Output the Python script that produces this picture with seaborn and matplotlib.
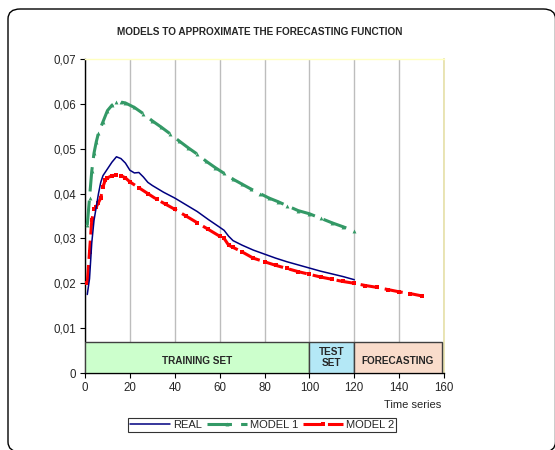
import numpy as np
import pandas as pd
import matplotlib
matplotlib.use("Agg")
import matplotlib.pyplot as plt
from matplotlib.patches import Rectangle, FancyBboxPatch
import seaborn as sns

# ---------------------------------------------------------------------------
# Data
# ---------------------------------------------------------------------------
real_x = [1, 2, 3, 4, 5, 6, 7, 8, 10, 12, 14, 16, 18, 20, 22, 24, 26, 28, 30,
          35, 40, 45, 50, 55, 60, 62, 64, 66, 70, 75, 80, 85, 90, 95, 100,
          105, 110, 115, 120]
real_y = [0.0175, 0.021, 0.029, 0.034, 0.037, 0.040, 0.0425, 0.044, 0.0455,
          0.047, 0.0482, 0.0478, 0.0468, 0.0452, 0.0446, 0.0447, 0.0437,
          0.0425, 0.0418, 0.0403, 0.0390, 0.0375, 0.0360, 0.0342, 0.0325,
          0.0318, 0.0305, 0.0295, 0.0285, 0.0274, 0.0265, 0.0256, 0.0248,
          0.0241, 0.0234, 0.0227, 0.0221, 0.0215, 0.0208]

model1_x = [1, 2, 3, 4, 5, 6, 8, 10, 12, 14, 16, 18, 22, 26, 30, 34, 38, 42,
            46, 50, 54, 58, 62, 66, 70, 74, 78, 82, 86, 90, 95, 100, 105,
            110, 115, 120]
model1_y = [0.0330, 0.0390, 0.0450, 0.0490, 0.0515, 0.0535, 0.0560, 0.0585,
            0.0597, 0.0604, 0.0604, 0.0602, 0.0592, 0.0578, 0.0562, 0.0548,
            0.0533, 0.0517, 0.0502, 0.0488, 0.0472, 0.0458, 0.0445, 0.0432,
            0.0421, 0.0410, 0.0400, 0.0390, 0.0382, 0.0373, 0.0362, 0.0355,
            0.0345, 0.0335, 0.0326, 0.0317]

model2_x = [1, 2, 3, 4, 5, 6, 7, 8, 9, 10, 12, 14, 16, 18, 20, 24, 28, 32, 36,
            40, 45, 50, 55, 60, 62, 64, 66, 70, 75, 80, 85, 90, 95, 100, 105,
            110, 115, 120, 125, 130, 135, 140, 145, 150]
model2_y = [0.0200, 0.0270, 0.0340, 0.0365, 0.0370, 0.0380, 0.0390, 0.0415,
            0.0430, 0.0435, 0.0440, 0.0442, 0.0440, 0.0435, 0.0426, 0.0413,
            0.0400, 0.0387, 0.0376, 0.0365, 0.0350, 0.0335, 0.0320, 0.0305,
            0.0300, 0.0285, 0.0280, 0.0270, 0.0256, 0.0248, 0.0240, 0.0233,
            0.0226, 0.0220, 0.0214, 0.0209, 0.0204, 0.0200, 0.0195, 0.0191,
            0.0186, 0.0181, 0.0177, 0.0172]

# Phase bands along the bottom of the chart
phase_labels = ["TRAINING SET", "TEST\nSET", "FORECASTING"]
phase_start = [0, 100, 120]
phase_end = [100, 120, 159]
phase_colors = ["#CCFFCC", "#B4E8F6", "#F9DCCB"]
band_top = 0.0069

x_ticks = [0, 20, 40, 60, 80, 100, 120, 140, 160]
y_ticks = [0, 0.01, 0.02, 0.03, 0.04, 0.05, 0.06, 0.07]
y_tick_labels = ["0", "0,01", "0,02", "0,03", "0,04", "0,05", "0,06", "0,07"]

# ---------------------------------------------------------------------------
# Style
# ---------------------------------------------------------------------------
sns.set_style("white")
plt.rcParams["font.family"] = ["Liberation Sans", "DejaVu Sans"]

fig = plt.figure(figsize=(5.55, 4.5), dpi=100)
ax = fig.add_axes([0.1532, 0.1711, 0.6468, 0.6978])

# outer rounded frame (right/bottom edges fall outside the image)
frame = FancyBboxPatch((8 / 555, -0.004), 547.5 / 555, 1 - 9 / 450 + 0.004,
                       boxstyle="round,pad=0,rounding_size=0.022",
                       transform=fig.transFigure, fill=False,
                       edgecolor="black", linewidth=1.0, clip_on=False)
fig.patches.append(frame)

real = pd.DataFrame({"x": real_x, "y": real_y})
model1 = pd.DataFrame({"x": model1_x, "y": model1_y})
model2 = pd.DataFrame({"x": model2_x, "y": model2_y})

sns.lineplot(data=real, x="x", y="y", ax=ax, color="#000080",
             linewidth=1.1, label="REAL", zorder=5)
sns.lineplot(data=model1, x="x", y="y", ax=ax, color="#339966",
             linewidth=2.2, linestyle=(0, (8, 3)), marker="^",
             markersize=2.8, markeredgewidth=0, label="MODEL 1", zorder=4)
sns.lineplot(data=model2, x="x", y="y", ax=ax, color="#FF0000",
             linewidth=2.2, linestyle=(0, (6, 2)), marker="s",
             markersize=2.6, markeredgewidth=0, label="MODEL 2", zorder=4)
if ax.get_legend() is not None:
    ax.get_legend().remove()

# phase bands
for lab, x0, x1, col in zip(phase_labels, phase_start, phase_end, phase_colors):
    ax.add_patch(Rectangle((x0, 0), x1 - x0, band_top, facecolor=col,
                           edgecolor="#404040", linewidth=1.0, zorder=3))
    ty = band_top / 2 if "\n" in lab else band_top * 0.38
    ax.text((x0 + x1) / 2, ty, lab, ha="center", va="center",
            fontsize=7.2, fontweight="bold", zorder=6, linespacing=1.2)

# axes
ax.set_xlim(0, 160)
ax.set_ylim(0, 0.07)
ax.set_xticks(x_ticks)
ax.set_yticks(y_ticks)
ax.set_yticklabels(y_tick_labels)
ax.tick_params(axis="both", labelsize=8.3, length=3.5, width=0.8,
               direction="out", color="black", pad=3)
ax.tick_params(axis="x", bottom=True)
ax.tick_params(axis="y", left=True)
ax.set_xlabel("")
ax.set_ylabel("")

ax.grid(axis="x", color="#BDBDBD", linewidth=1.0, zorder=0)
ax.set_axisbelow(True)
for side in ["left", "bottom"]:
    ax.spines[side].set_color("black")
    ax.spines[side].set_linewidth(1.0)
ax.spines["top"].set_color("#FFFFC0")
ax.spines["right"].set_color("#E6E0A8")
ax.spines["top"].set_linewidth(1.0)
ax.spines["right"].set_linewidth(1.2)

fig.text(260 / 555, 1 - 32 / 450, "MODELS TO APPROXIMATE THE FORECASTING FUNCTION",
         ha="center", va="center", fontsize=7.2, fontweight="bold")
fig.text(413 / 555, 1 - 405 / 450, "Time series", ha="center", va="center",
         fontsize=8)

handles, labels = ax.get_legend_handles_labels()
leg = fig.legend(handles, labels, loc="center", ncol=3,
                 bbox_to_anchor=(262 / 555, 1 - 425 / 450), fontsize=8,
                 frameon=True, fancybox=False, edgecolor="black",
                 handlelength=3.6, handletextpad=0.3, columnspacing=0.4,
                 borderpad=0.2, borderaxespad=0)
leg.get_frame().set_linewidth(0.8)

fig.savefig("out.png", dpi=100)
plt.close(fig)
